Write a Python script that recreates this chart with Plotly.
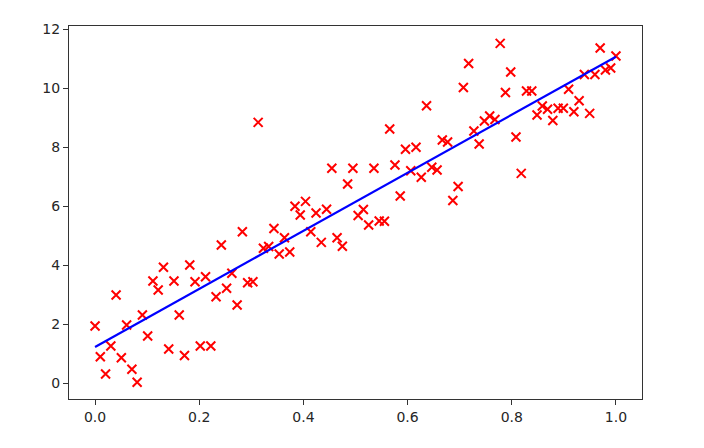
import numpy as np
import plotly.graph_objects as go

# scatter data (x evenly spaced from 0 to 1, 100 points)
x_vals = [i / 99 for i in range(100)]
y_vals = [
    1.949, 0.908, 0.322, 1.271, 3.000, 0.875, 1.983, 0.481, 0.041, 2.322,
    1.610, 3.475, 3.169, 3.939, 1.169, 3.475, 2.322, 0.949, 4.017, 3.451,
    1.271, 3.620, 1.271, 2.942, 4.695, 3.227, 3.736, 2.661, 5.146, 3.417,
    3.451, 8.854, 4.583, 4.644, 5.254, 4.390, 4.942, 4.458, 6.007, 5.712,
    6.176, 5.146, 5.780, 4.786, 5.908, 7.295, 4.939, 4.651, 6.763, 7.295,
    5.695, 5.898, 5.373, 7.295, 5.508, 5.498, 8.627, 7.407, 6.356, 7.939,
    7.214, 8.007, 6.990, 9.417, 7.329, 7.237, 8.254, 8.186, 6.203, 6.678,
    10.034, 10.847, 8.559, 8.119, 8.898, 9.068, 8.949, 11.532, 9.864, 10.559,
    8.356, 7.125, 9.915, 9.915, 9.102, 9.407, 9.295, 8.915, 9.329, 9.329,
    9.976, 9.214, 9.586, 10.475, 9.159, 10.475, 11.373, 10.627, 10.695, 11.102,
]

# fitted line endpoints
line_x = [0.0, 1.0]
line_y = [1.24, 11.08]

x_ticks = [0.0, 0.2, 0.4, 0.6, 0.8, 1.0]
y_ticks = [0, 2, 4, 6, 8, 10, 12]

fig = go.Figure()
fig.add_trace(go.Scatter(
    x=x_vals, y=y_vals, mode="markers",
    marker=dict(symbol="x-thin", size=9, color="red",
                line=dict(color="red", width=2)),
    showlegend=False, hoverinfo="skip",
))
fig.add_trace(go.Scatter(
    x=line_x, y=line_y, mode="lines",
    line=dict(color="#0000ff", width=2.2),
    showlegend=False, hoverinfo="skip",
))

axis_common = dict(
    showgrid=False, zeroline=False,
    showline=True, linecolor="#333333", linewidth=1, mirror=True,
    ticks="outside", ticklen=5, tickwidth=1, tickcolor="#333333",
    tickfont=dict(family="DejaVu Sans", size=14, color="#262626"),
)

fig.update_xaxes(range=[-0.05, 1.05], tickvals=x_ticks,
                 ticktext=[f"{v:.1f}" for v in x_ticks], **axis_common)
fig.update_yaxes(range=[-0.525, 12.12], tickvals=y_ticks,
                 ticktext=[str(v) for v in y_ticks], **axis_common)

fig.update_layout(
    width=704, height=448,
    margin=dict(l=61, r=70, t=18, b=57),
    paper_bgcolor="white", plot_bgcolor="white",
)

fig.write_html("out.html")
